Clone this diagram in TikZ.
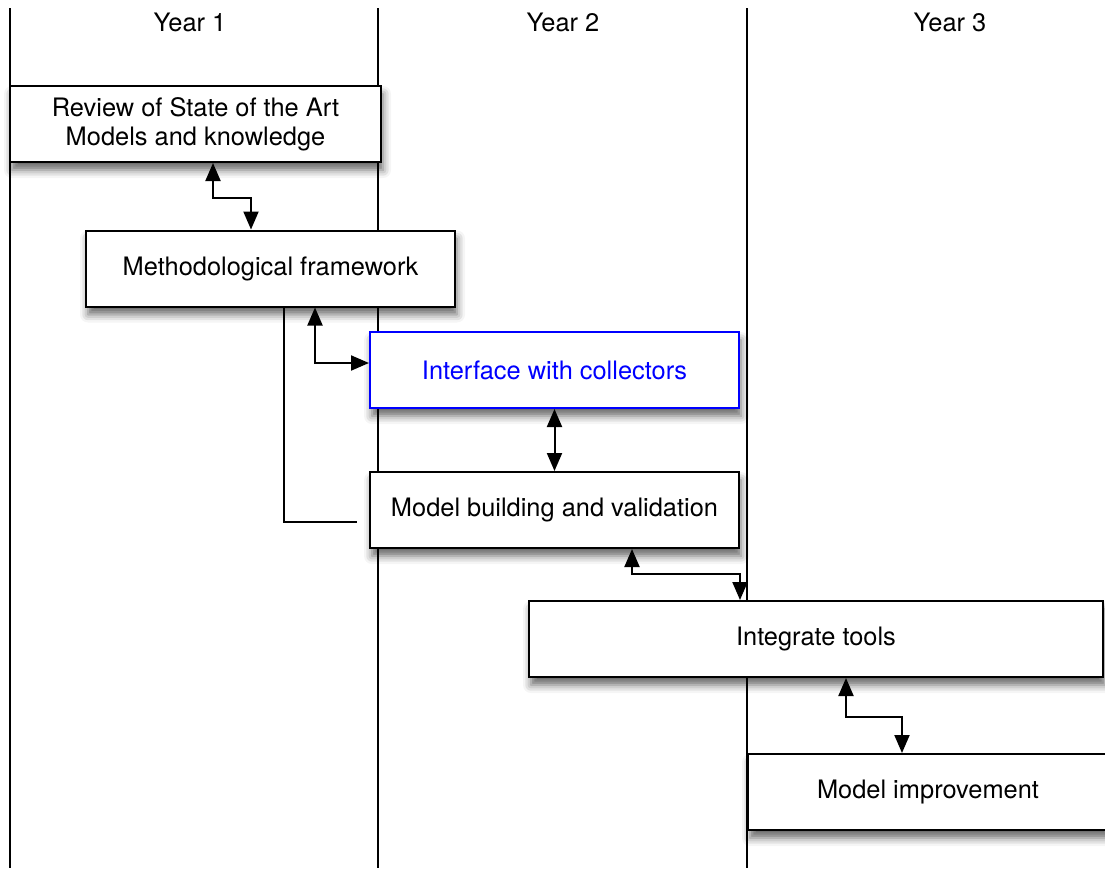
\documentclass[tikz,border=0pt]{standalone}
\usepackage{fontspec}
\setmainfont{TeX Gyre Heros}
\usetikzlibrary{arrows.meta,calc,shadows.blur}

\tikzset{
	task/.style={draw, line width=1pt, fill=white, minimum height=38pt, inner sep=0pt, align=center,
		blur shadow={shadow xshift=1pt, shadow yshift=-4pt, shadow blur radius=4pt, shadow opacity=60}},
	link/.style={line width=1pt, {Triangle[length=9pt,width=7.5pt]}-{Triangle[length=9pt,width=7.5pt]}},
	year/.style={line width=1pt}
}

\begin{document}
\begin{tikzpicture}[x=0.5pt, y=-0.5pt, font=\fontsize{12.7}{14.5}\selectfont]
	
	\useasboundingbox (0,0) rectangle (1105,869);
	
	% columns
	\draw[year] (10,8) -- (10,868);
	\draw[year] (378,8) -- (378,868);
	\draw[year] (747,8) -- (747,868);
	\node (y1) at (190,22) {Year 1};
	\node (y2) at (563,22) {Year 2};
	\node (y3) at (950,22) {Year 3};
	
	% tasks
	\node[task, minimum width=185.5pt] (review) at (195.5,124) {Review of State of the Art\\Models and knowledge};
	\node[task, minimum width=184.5pt] (method) at (270.5,268.5) {Methodological framework};
	\node[task, minimum width=184.5pt, draw=blue, text=blue] (iface) at (554.5,370) {Interface with collectors};
	\node[task, minimum width=184.5pt] (build) at (554.5,510) {Model building and validation};
	\node[task, minimum width=287pt] (integ) at (816,639) {Integrate tools};
	\node[task, minimum width=180pt] (improve) at (928,792) {Model improvement};
	
	% links
	\draw[link] ($(review.south)+(17.5,0)$) -- ++(0,35) -| ($(method.north)+(-19.5,0)$);
	\draw[link] ($(method.south)+(44.5,0)$) |- ($(iface.west)+(0,-7)$);
	\draw[link] (iface.south) -- (build.north);
	\draw[year] ($(method.south)+(13.5,0)$) |- ($(build.west)+(-12,12)$);
	\draw[link] ($(build.south)+(77.5,0)$) -- ++(0,25) -| ($(integ.north)+(-76,0)$);
	\draw[link] ($(integ.south)+(30,0)$) -- ++(0,39) -| ($(improve.north)+(-26,0)$);
	
\end{tikzpicture}
\end{document}
